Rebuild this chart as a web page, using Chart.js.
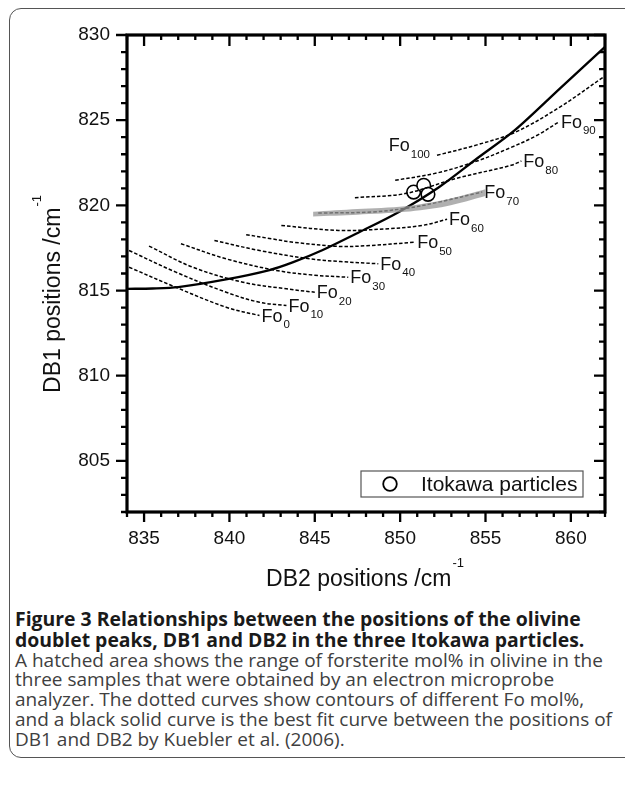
<!DOCTYPE html>
<html>
<head>
<meta charset="utf-8">
<script src="https://cdn.jsdelivr.net/npm/chart.js@4.4.1/dist/chart.umd.min.js"></script>
<style>
  html, body { margin:0; padding:0; background:#fff; width:625px; height:797px; overflow:hidden; }
  #frame { position:absolute; left:9px; top:8px; width:640px; height:750px; border:1.5px solid #555; border-radius:12px; box-sizing:border-box; }
  #wrap { position:absolute; left:0; top:0; width:625px; height:600px; }
  #caption { position:absolute; left:15px; top:609px; font-family:"Open Sans", sans-serif; font-size:19px; line-height:19.8px; white-space:nowrap; color:#404040; }
  #caption b { color:#1a1a1a; font-weight:700; font-size:19.4px; }
</style>
</head>
<body>
<div id="frame"></div>
<div id="wrap"><canvas id="c" width="625" height="600"></canvas></div>
<div id="caption"><b>Figure 3 Relationships between the positions of the olivine<br>doublet peaks, DB1 and DB2 in the three Itokawa particles.</b><br>A hatched area shows the range of forsterite mol% in olivine in the<br>three samples that were obtained by an electron microprobe<br>analyzer. The dotted curves show contours of different Fo mol%,<br>and a black solid curve is the best fit curve between the positions of<br>DB1 and DB2 by Kuebler et al. (2006).</div>
<script>
// ---- axis ranges / tick labels ----
const X_MIN = 834, X_MAX = 862;
const Y_MIN = 802, Y_MAX = 830;
const xTickLabels = [835, 840, 845, 850, 855, 860];
const yTickLabels = [805, 810, 815, 820, 825, 830];
const xTitle = "DB2 positions /cm";
const yTitle = "DB1 positions /cm";
const unitSup = "-1";

// ---- Fo contour levels and curves [DB2, DB1] ----
const foLevels = [0, 10, 20, 30, 40, 50, 60, 70, 80, 90, 100];
const fo0   = [[834.12,816.37],[836.86,815.19],[839.81,814.02],[841.76,813.53]];
const fo10  = [[834.12,817.35],[836.86,816.08],[839.81,814.90],[841.76,814.31],[843.34,814.12]];
const fo20  = [[835.29,817.61],[837.85,816.37],[840.79,815.49],[843.34,815.10],[845.00,814.90]];
const fo30  = [[837.16,817.75],[839.81,816.86],[842.75,816.18],[845.00,815.90],[846.96,815.78]];
const fo40  = [[839.12,817.94],[841.76,817.35],[844.71,816.86],[846.50,816.70],[848.72,816.57]];
const fo50  = [[840.98,818.28],[842.45,818.04],[843.73,817.84],[846.38,817.59],[848.04,817.63],[850.88,817.84]];
const fo60  = [[843.04,818.82],[846.38,818.53],[849.32,818.63],[851.28,818.82],[852.75,819.18]];
const fo70  = [[845.20,819.55],[848.34,819.61],[850.50,819.85],[852.26,820.19],[854.81,820.78]];
const fo80  = [[847.35,820.45],[850.29,820.69],[853.24,821.57],[856.50,822.35],[857.10,822.60]];
const fo90  = [[849.71,821.47],[852.16,821.90],[854.50,822.60],[856.50,823.40],[858.00,824.10],[859.30,824.90]];
const fo100 = [[852.16,822.94],[854.50,823.55],[856.76,824.30],[859.40,825.80],[862.00,827.60]];
const foCurves = [fo0, fo10, fo20, fo30, fo40, fo50, fo60, fo70, fo80, fo90, fo100];

// ---- Kuebler et al. (2006) best-fit curve ----
const fitCurve = [[834.0,815.10],[835.5,815.12],[837.0,815.20],[839.8,815.65],[842.35,816.20],[843.7,816.65],
  [845.4,817.35],[847.65,818.45],[849.9,819.60],[852.25,821.05],[854.5,822.75],[856.7,824.40],[859.4,826.90],[862.0,829.30]];

// ---- hatched range (EPMA forsterite range) ----
const bandUpper = [[844.9,819.62],[847.5,819.78],[850.3,819.95],[852.7,820.35],[855.0,820.95]];
const bandLower = [[844.9,819.35],[847.5,819.45],[850.3,819.62],[852.7,819.95],[855.0,820.55]];

// ---- Itokawa particles ----
const itokawaDB2 = [850.79, 851.38, 851.63];
const itokawaDB1 = [820.78, 821.18, 820.65];
const itokawaLabel = "Itokawa particles";

// ---------------------------------------------------------------
const toXY = arr => arr.map(p => ({x:p[0], y:p[1]}));
const LABEL_FONT = '"Liberation Sans", Arial, sans-serif';

const datasets = [];
datasets.push({ label:'bandLower', data: toXY(bandLower), borderWidth:0, pointRadius:0, fill:false, tension:0.3, backgroundColor:'rgba(0,0,0,0)' });
datasets.push({ label:'bandUpper', data: toXY(bandUpper), borderWidth:0, pointRadius:0, fill:'-1', tension:0.3, backgroundColor:'rgba(150,150,150,0.75)' });
foCurves.forEach((c, i) => {
  datasets.push({ label:'Fo'+foLevels[i], foLevel: foLevels[i], data: toXY(c), borderColor:'#000', borderWidth:1.5,
    borderDash:[3.5,2], pointRadius:0, fill:false, tension:0.35 });
});
datasets.push({ label:'fit', data: toXY(fitCurve), borderColor:'#000', borderWidth:2.3, pointRadius:0, fill:false, tension:0.3 });
datasets.push({ label: itokawaLabel, isLegend:true, data: itokawaDB2.map((x,i)=>({x, y: itokawaDB1[i]})), showLine:false,
  pointRadius:6.8, pointBackgroundColor:'#fff', pointBorderColor:'#000', pointBorderWidth:1.6, pointStyle:'circle' });

const decor = {
  id:'decor',
  afterDatasetsDraw(chart) {
    const ctx = chart.ctx;
    ctx.save();
    chart.data.datasets.forEach((ds, di) => {
      if (ds.foLevel === undefined) return;
      const pts = chart.getDatasetMeta(di).data;
      const main = 'Fo', sub = String(ds.foLevel);
      ctx.fillStyle = '#111';
      ctx.textBaseline = 'alphabetic';
      ctx.font = '18px ' + LABEL_FONT;
      const wMain = ctx.measureText(main).width;
      ctx.font = '11.5px ' + LABEL_FONT;
      const wSub = ctx.measureText(sub).width;
      let x, yb;
      if (ds.foLevel === 100) {
        const p = pts[0];
        x = p.x - 7 - wSub - wMain - 1;
        yb = p.y - 4;
      } else {
        const p = pts[pts.length - 1];
        x = p.x + 2;
        yb = p.y + 6;
      }
      ctx.textAlign = 'left';
      ctx.font = '18px ' + LABEL_FONT;
      ctx.fillText(main, x, yb);
      ctx.font = '11.5px ' + LABEL_FONT;
      ctx.fillText(sub, x + wMain + 1, yb + 6.5);
    });
    ctx.restore();
  },
  afterDraw(chart) {
    const ctx = chart.ctx;
    const {left, right, top, bottom} = chart.chartArea;
    const xs = chart.scales.x, ys = chart.scales.y;
    ctx.save();
    ctx.strokeStyle = '#000';
    ctx.lineWidth = 2.3;
    ctx.beginPath();
    for (let v = X_MIN; v <= X_MAX; v++) {
      const px = xs.getPixelForValue(v);
      const major = xTickLabels.includes(v);
      ctx.moveTo(px, bottom); ctx.lineTo(px, bottom + (major ? 10 : 5));
      ctx.moveTo(px, top); ctx.lineTo(px, top + (major ? 11 : 5));
    }
    for (let v = Y_MIN; v <= Y_MAX; v++) {
      const py = ys.getPixelForValue(v);
      const major = yTickLabels.includes(v);
      ctx.moveTo(left, py); ctx.lineTo(left - (major ? 11 : 6), py);
      ctx.moveTo(right, py); ctx.lineTo(right - (major ? 11 : 6), py);
    }
    ctx.stroke();
    ctx.lineWidth = 3.2;
    ctx.strokeRect(left, top, right - left, bottom - top);

    // legend box
    const legDs = chart.data.datasets.find(d => d.isLegend);
    const bx0 = right - 244, bx1 = right - 22, by0 = bottom - 41, by1 = bottom - 15;
    ctx.lineWidth = 1.2; ctx.strokeStyle = '#555';
    ctx.fillStyle = '#fff';
    ctx.fillRect(bx0, by0, bx1 - bx0, by1 - by0);
    ctx.strokeRect(bx0, by0, bx1 - bx0, by1 - by0);
    const cy = (by0 + by1) / 2;
    ctx.beginPath();
    ctx.arc(bx0 + 29, cy, 6.8, 0, Math.PI * 2);
    ctx.fillStyle = '#fff'; ctx.fill();
    ctx.lineWidth = 1.8; ctx.strokeStyle = '#000'; ctx.stroke();
    ctx.fillStyle = '#111';
    ctx.font = '21px ' + LABEL_FONT;
    ctx.textAlign = 'left'; ctx.textBaseline = 'middle';
    ctx.fillText(legDs.label, bx0 + 60, cy + 1);

    // axis titles with superscript
    const drawTitle = (text, cx, cyy, rot) => {
      ctx.save();
      ctx.translate(cx, cyy);
      ctx.rotate(rot);
      ctx.font = '23px ' + LABEL_FONT;
      const w1 = ctx.measureText(text).width;
      ctx.font = '13px ' + LABEL_FONT;
      const w2 = ctx.measureText(unitSup).width;
      const x0 = -(w1 + w2 + 1) / 2;
      ctx.fillStyle = '#111';
      ctx.textAlign = 'left'; ctx.textBaseline = 'alphabetic';
      ctx.font = '23px ' + LABEL_FONT;
      ctx.fillText(text, x0, 8);
      ctx.font = '13px ' + LABEL_FONT;
      ctx.fillText(unitSup, x0 + w1 + 1, -11);
      ctx.restore();
    };
    drawTitle(xTitle, 365, 578, 0);
    drawTitle(yTitle, 52, 294, -Math.PI / 2);
    ctx.restore();
  }
};

new Chart(document.getElementById('c'), {
  type: 'line',
  data: { datasets },
  options: {
    responsive: false,
    devicePixelRatio: 1,
    animation: false,
    layout: { padding: { top: 35, right: 20, left: 0, bottom: 0 } },
    plugins: { legend: { display: false }, tooltip: { enabled: false }, title: { display: false } },
    scales: {
      x: {
        type: 'linear', min: X_MIN, max: X_MAX,
        border: { display: false },
        grid: { display: true, drawOnChartArea: false, drawTicks: true, tickLength: 10, tickColor: 'rgba(0,0,0,0)', color: 'rgba(0,0,0,0)' },
        ticks: { stepSize: 1, autoSkip: false, maxRotation: 0, padding: 5, color: '#111',
          font: { family: LABEL_FONT, size: 19 },
          callback: v => xTickLabels.includes(v) ? String(v) : '' },
        afterFit: s => { s.height = 88; }
      },
      y: {
        type: 'linear', min: Y_MIN, max: Y_MAX,
        border: { display: false },
        grid: { display: true, drawOnChartArea: false, drawTicks: true, tickLength: 11, tickColor: 'rgba(0,0,0,0)', color: 'rgba(0,0,0,0)' },
        ticks: { stepSize: 1, autoSkip: false, padding: 6, color: '#111',
          font: { family: LABEL_FONT, size: 19 },
          callback: v => yTickLabels.includes(v) ? String(v) : '' },
        afterFit: s => { s.width = 127; }
      }
    }
  },
  plugins: [decor]
});
</script>
</body>
</html>
